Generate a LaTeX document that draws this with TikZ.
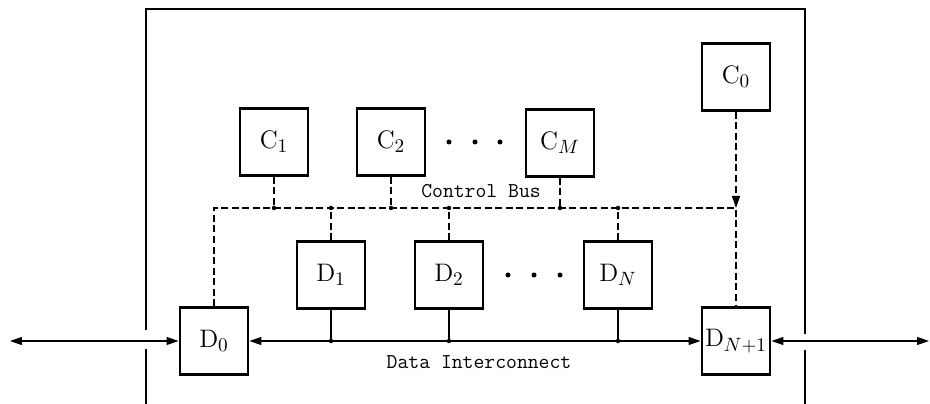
\documentclass[tikz,border=0pt]{standalone}
\usepackage{amsmath}
\usetikzlibrary{arrows.meta}
\usetikzlibrary{positioning}

\tikzset{
	>={Triangle[length=0.24cm,width=0.16cm]},
	unit/.style={draw,rectangle,line width=1.4pt,minimum width=1.37cm,minimum height=1.34cm,inner sep=0pt,font=\fontsize{15}{17}\selectfont},
	ctrl/.style={line width=0.6pt,dash pattern=on 4pt off 2pt},
	data/.style={line width=0.7pt},
	tap/.style={circle,fill=black,inner sep=0pt,minimum size=0.09cm},
	ell/.style={circle,fill=black,inner sep=0pt,minimum size=0.1cm},
	buslabel/.style={font=\fontsize{12}{14}\selectfont\ttfamily}
}

\begin{document}
\begin{tikzpicture}[x=0.02cm,y=-0.02cm]
	\useasboundingbox (0,0) rectangle (930,404);
	
	% enclosure
	\draw[line width=1.5pt] (146,330) -- (146,9) -- (805,9) -- (805,334);
	\draw[line width=1.5pt] (146,349) -- (146,404);
	\draw[line width=1.5pt] (805,350) -- (805,404);
	
	% controllers
	\node[unit] (c1) at (274,142) {$\mathrm{C}_1$};
	\node[unit] (c2) at (391,142) {$\mathrm{C}_2$};
	\node[unit] (cm) at (560,143) {$\mathrm{C}_M$};
	\node[unit] (c0) at (736,77) {$\mathrm{C}_0$};
	\node[ell] (ec1) at (449,142) {};
	\node[ell] (ec2) at (475,142) {};
	\node[ell] (ec3) at (500,142) {};
	
	% data units
	\node[unit] (d0) at (214,341) {$\mathrm{D}_0$};
	\node[unit] (d1) at (331,275) {$\mathrm{D}_1$};
	\node[unit] (d2) at (449,275) {$\mathrm{D}_2$};
	\node[unit] (dn) at (618,275) {$\mathrm{D}_N$};
	\node[unit] (dn1) at (736,341) {$\mathrm{D}_{N+1}$};
	\node[ell] (ed1) at (508,275) {};
	\node[ell] (ed2) at (534,275) {};
	\node[ell] (ed3) at (560,275) {};
	
	%control bus
	\coordinate (cb) at (0,208);
	\draw[ctrl] (d0.north) -- (d0 |- cb) -- (dn1 |- cb) -- (dn1.north);
	\draw[ctrl,->] (c0.south) -- (c0 |- cb);
	\draw[ctrl] (c1.south) -- (c1 |- cb) node[tap] (tc1) {};
	\draw[ctrl] (c2.south) -- (c2 |- cb) node[tap] (tc2) {};
	\draw[ctrl] (cm.south) -- (cm |- cb) node[tap] (tcm) {};
	\draw[ctrl] (d1.north) -- (d1 |- cb) node[tap] (td1) {};
	\draw[ctrl] (d2.north) -- (d2 |- cb) node[tap] (td2) {};
	\draw[ctrl] (dn.north) -- (dn |- cb) node[tap] (tdn) {};
	\node[buslabel] (cbus) at (481,191) {Control Bus};
	
	%data interconnect
	\coordinate (di) at (0,341);
	\draw[data,<->] (d0.east) -- (dn1.west);
	\draw[data] (d1.south) -- (d1 |- di) node[tap] (sd1) {};
	\draw[data] (d2.south) -- (d2 |- di) node[tap] (sd2) {};
	\draw[data] (dn.south) -- (dn |- di) node[tap] (sdn) {};
	\node[buslabel] (dbus) at (479,362) {Data Interconnect};
	
	%ports
	\coordinate (pin) at (10,341);
	\coordinate (pout) at (929,341);
	\draw[data,<->] (pin) -- (d0.west);
	\draw[data,<->] (dn1.east) -- (pout);
	
\end{tikzpicture}
\end{document}
